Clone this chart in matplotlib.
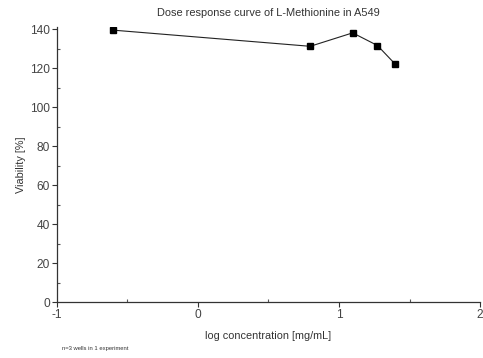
import matplotlib.pyplot as plt
import numpy as np
from matplotlib.ticker import MultipleLocator

plt.rcParams['font.family'] = ['Liberation Sans', 'DejaVu Sans']
plt.rcParams['axes.unicode_minus'] = False

# concentrations in mg/mL and measured viability
conc = np.array([0.25, 6.25, 12.5, 18.75, 25.0])
viability = [139.5, 131.2, 138.1, 131.6, 122.1]
log_conc = np.log10(conc)

fig = plt.figure(figsize=(4.83, 3.58), dpi=100)
ax = fig.add_axes([0.118, 0.1564, 0.8758, 0.7676])

ax.plot(log_conc, viability, color='#222222', lw=0.8, marker='s',
        markersize=4.5, markerfacecolor='black', markeredgecolor='black')

ax.set_xlim(-1, 2)
ax.set_ylim(0, 141)
ax.xaxis.set_major_locator(MultipleLocator(1))
ax.xaxis.set_minor_locator(MultipleLocator(0.5))
ax.yaxis.set_major_locator(MultipleLocator(20))
ax.yaxis.set_minor_locator(MultipleLocator(10))

for side in ['top', 'right']:
    ax.spines[side].set_visible(False)
for side in ['left', 'bottom']:
    ax.spines[side].set_color('#333333')
    ax.spines[side].set_linewidth(0.9)

ax.tick_params(which='major', direction='out', length=3.5, width=0.8,
               color='#333333', labelsize=8.6, labelcolor='#444444', pad=1.5)
ax.tick_params(which='minor', direction='in', length=2, width=0.8,
               color='#555555')

ax.set_title('Dose response curve of L-Methionine in A549', fontsize=7.9,
             color='#333333', pad=8)
ax.set_xlabel('log concentration [mg/mL]', fontsize=7.8, color='#333333',
              labelpad=7)
ax.set_ylabel('Viability [%]', fontsize=7.8, color='#333333', labelpad=3)

fig.text(0.128, 0.022, 'n=3 wells in 1 experiment', fontsize=4.2,
         color='#333333')

fig.savefig('out.png', dpi=100)
